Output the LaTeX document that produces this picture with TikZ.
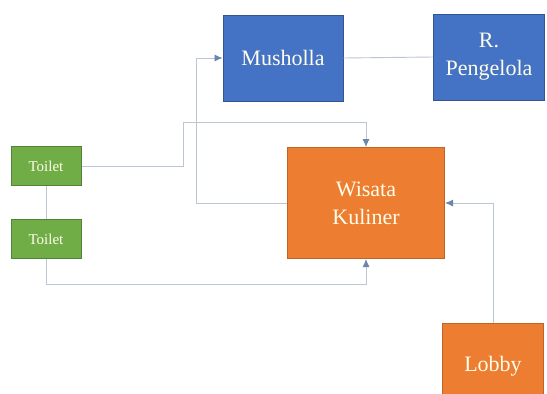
\documentclass[tikz,border=0pt]{standalone}
\usepackage{fontspec}
\setmainfont{Liberation Serif}
\usepackage{tikz}
\usetikzlibrary{arrows.meta}

\definecolor{hijau}{HTML}{70AD47}
\definecolor{biru}{HTML}{4472C4}
\definecolor{oranye}{HTML}{ED7D31}
\definecolor{garis}{HTML}{BCC6D2}
\definecolor{panah}{HTML}{6A86AA}

\begin{document}
\begin{tikzpicture}[x=1pt,y=-1pt]
\tikzstyle{every node}+=[inner sep=0pt]
\tikzstyle{ruang}=[draw, line width=1pt, text=white!92!yellow, align=center,
  font=\fontsize{22}{28}\selectfont]
\tikzstyle{toilet}=[ruang, fill=hijau, draw=hijau!75!black, minimum width=70pt,
  minimum height=39pt, font=\fontsize{15}{18}\selectfont]
\tikzstyle{conn}=[garis, line width=0.9pt]
\tikzstyle{arah}=[conn, -{Latex[length=8pt,width=7pt,color=panah]}]
\clip (0,0) rectangle (547,394);
\fill[white] (0,0) rectangle (547,394);
% ruang
\node [toilet] (t1) at (46,166) {Toilet};
\node [toilet] (t2) at (46,239) {Toilet};
\node [ruang, fill=biru, draw=biru!75!black, minimum width=120pt,
  minimum height=86pt] (mu) at (283,58) {Musholla};
\node [ruang, fill=biru, draw=biru!75!black, minimum width=111pt,
  minimum height=86pt] (rp) at (489,57) {R.\\Pengelola};
\node [ruang, fill=oranye, draw=oranye!80!black, minimum width=157pt,
  minimum height=111pt] (wk) at (366,203) {Wisata\\Kuliner};
\node [ruang, fill=oranye, draw=oranye!80!black, minimum width=101pt,
  minimum height=86pt] (lb) at (493,366) {Lobby};
% jalur
\draw [arah] (t1.east) -- ++(102,0) |- ([yshift=25pt]wk.north) -- (wk.north);
\draw [arah] (wk.west) -- ++(-91,0) |- (mu.west);
\draw [conn] (mu.east) -- (rp.west);
\draw [conn] (t1.south) -- (t2.north);
\draw [arah] (t2.south) -- ++(0,25) -| (wk.south);
\draw [arah] (lb.north) |- (wk.east);
\end{tikzpicture}
\end{document}
